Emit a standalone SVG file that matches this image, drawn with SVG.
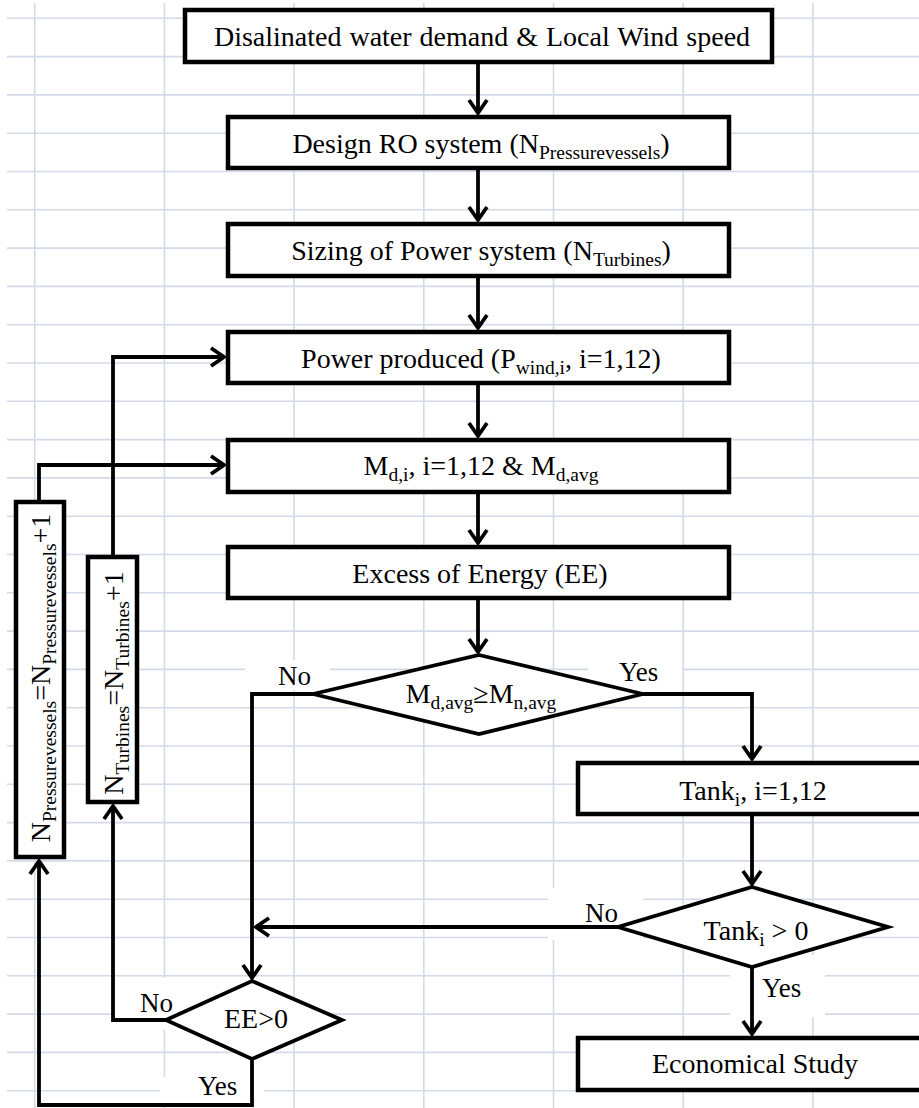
<svg xmlns="http://www.w3.org/2000/svg" width="919" height="1108" viewBox="0 0 919 1108">
<style>
.grid line{stroke:#d3dae8;stroke-width:1.6}
.gap{fill:#fff}
.box{fill:#fff;stroke:#000;stroke-width:4.5}
.dia{fill:#fff;stroke:#000;stroke-width:3.8;stroke-linejoin:miter}
.t{font-family:"Liberation Serif","Times New Roman",serif;font-size:28px;fill:#000;text-anchor:middle}
.lb{font-family:"Liberation Serif","Times New Roman",serif;font-size:27px;fill:#000}
.s{font-size:19.5px}
.c{fill:none;stroke:#000;stroke-width:3.8;marker-end:url(#ah)}
</style>
<defs>
<marker id="ah" markerUnits="userSpaceOnUse" viewBox="-18 -14 22 28" refX="0" refY="0" markerWidth="22" markerHeight="28" orient="auto">
<path d="M-13,-9 L0,0 L-13,9" fill="none" stroke="#000" stroke-width="3.8" stroke-linejoin="miter"/>
</marker>
</defs>
<rect width="919" height="1108" fill="#fff"/>
<g class="grid">
<line x1="7" y1="18.3" x2="919" y2="18.3"/><line x1="7" y1="56.6" x2="919" y2="56.6"/><line x1="7" y1="94.9" x2="919" y2="94.9"/><line x1="7" y1="133.2" x2="919" y2="133.2"/><line x1="7" y1="171.5" x2="919" y2="171.5"/><line x1="7" y1="209.8" x2="919" y2="209.8"/><line x1="7" y1="248.1" x2="919" y2="248.1"/><line x1="7" y1="286.4" x2="919" y2="286.4"/><line x1="7" y1="324.7" x2="919" y2="324.7"/><line x1="7" y1="363" x2="919" y2="363"/><line x1="7" y1="401.3" x2="919" y2="401.3"/><line x1="7" y1="439.6" x2="919" y2="439.6"/><line x1="7" y1="477.9" x2="919" y2="477.9"/><line x1="7" y1="516.2" x2="919" y2="516.2"/><line x1="7" y1="554.5" x2="919" y2="554.5"/><line x1="7" y1="592.8" x2="919" y2="592.8"/><line x1="7" y1="631.1" x2="919" y2="631.1"/><line x1="7" y1="669.4" x2="919" y2="669.4"/><line x1="7" y1="707.7" x2="919" y2="707.7"/><line x1="7" y1="746" x2="919" y2="746"/><line x1="7" y1="784.3" x2="919" y2="784.3"/><line x1="7" y1="822.6" x2="919" y2="822.6"/><line x1="7" y1="860.9" x2="919" y2="860.9"/><line x1="7" y1="899.2" x2="919" y2="899.2"/><line x1="7" y1="937.5" x2="919" y2="937.5"/><line x1="7" y1="975.8" x2="919" y2="975.8"/><line x1="7" y1="1014.1" x2="919" y2="1014.1"/><line x1="7" y1="1052.4" x2="919" y2="1052.4"/><line x1="7" y1="1090.7" x2="919" y2="1090.7"/>
<line x1="34.7" y1="3" x2="34.7" y2="1108"/><line x1="164.4" y1="3" x2="164.4" y2="1108"/><line x1="294" y1="3" x2="294" y2="1108"/><line x1="423.8" y1="3" x2="423.8" y2="1108"/><line x1="553.5" y1="3" x2="553.5" y2="1108"/><line x1="683.2" y1="3" x2="683.2" y2="1108"/><line x1="812.9" y1="3" x2="812.9" y2="1108"/>
</g>
<g id="label-gaps">
<rect class="gap" x="245" y="660" width="85" height="30"/>
<rect class="gap" x="588" y="655" width="94" height="32"/>
<rect class="gap" x="548" y="888" width="95" height="52"/>
<rect class="gap" x="730" y="955" width="95" height="62"/>
<rect class="gap" x="115" y="978" width="90" height="52"/>
<rect class="gap" x="160" y="1077" width="104" height="30"/>
</g>
<g id="n-input"><rect class="box" x="185" y="10" width="587" height="52"/><text class="t" x="482" y="46" word-spacing="1">Disalinated water demand &amp; Local Wind speed</text></g>
<g id="n-design"><rect class="box" x="228" y="117" width="501" height="51"/><text class="t" x="481" y="153">Design RO system (N<tspan class="s" dy="6">Pressurevessels</tspan><tspan dy="-6">)</tspan></text></g>
<g id="n-sizing"><rect class="box" x="228" y="224" width="501" height="52"/><text class="t" x="481" y="260">Sizing of Power system (N<tspan class="s" dy="6">Turbines</tspan><tspan dy="-6">)</tspan></text></g>
<g id="n-power"><rect class="box" x="228" y="332" width="501" height="51"/><text class="t" x="481" y="368">Power produced (P<tspan class="s" dy="6">wind,i</tspan><tspan dy="-6">, i=1,12)</tspan></text></g>
<g id="n-md"><rect class="box" x="228" y="440" width="501" height="52"/><text class="t" x="481" y="475">M<tspan class="s" dy="6">d,i</tspan><tspan dy="-6">, i=1,12 &amp; M</tspan><tspan class="s" dy="6">d,avg</tspan></text></g>
<g id="n-excess"><rect class="box" x="228" y="547" width="501" height="51"/><text class="t" x="480" y="583">Excess of Energy (EE)</text></g>
<g id="n-dec1"><polygon class="dia" points="479,655 643,694 479,734 313,694"/><text class="t" x="481" y="703">M<tspan class="s" dy="6">d,avg</tspan><tspan dy="-6">≥M</tspan><tspan class="s" dy="6">n,avg</tspan></text></g>
<g id="n-tank"><rect class="box" x="578" y="763" width="350" height="51"/><text class="t" x="753" y="800">Tank<tspan class="s" dy="6">i</tspan><tspan dy="-6">, i=1,12</tspan></text></g>
<g id="n-dec2"><polygon class="dia" points="752,887 888,927 752,967 618,927"/><text class="t" x="756" y="940">Tank<tspan class="s" dy="6">i</tspan><tspan dy="-6"> &gt; 0</tspan></text></g>
<g id="n-econ"><rect class="box" x="578" y="1038" width="350" height="52"/><text class="t" x="755" y="1073">Economical Study</text></g>
<g id="n-dec3"><polygon class="dia" points="252,981 342,1020 252,1059 166,1020"/><text class="t" x="256" y="1028">EE&gt;0</text></g>
<g id="n-np"><rect class="box" x="16" y="502" width="48" height="355"/><text class="t" transform="translate(50,678) rotate(-90)">N<tspan class="s" dy="6">Pressurevessels</tspan><tspan dy="-6">=N</tspan><tspan class="s" dy="6">Pressurevessels</tspan><tspan dy="-6">+1</tspan></text></g>
<g id="n-nt"><rect class="box" x="88" y="557" width="49" height="245"/><text class="t" transform="translate(123,683) rotate(-90)">N<tspan class="s" dy="6">Turbines</tspan><tspan dy="-6">=N</tspan><tspan class="s" dy="6">Turbines</tspan><tspan dy="-6">+1</tspan></text></g>
<g id="connectors">
<path class="c" d="M478,62 V113"/>
<path class="c" d="M478,168 V220"/>
<path class="c" d="M478,276 V328"/>
<path class="c" d="M478,383 V436"/>
<path class="c" d="M478,492 V543"/>
<path class="c" d="M478,598 V652"/>
<path class="c" d="M643,694 H752 V759"/>
<path class="c" d="M752,814 V884"/>
<path class="c" d="M752,967 V1034"/>
<path class="c" d="M618,927 H256"/>
<path class="c" d="M313,694 H252 V978"/>
<path class="c" d="M166,1020 H113 V806"/>
<path class="c" d="M113,557 V357 H224"/>
<path class="c" d="M252,1059 V1105 H39 V861"/>
<path class="c" d="M39,502 V465 H224"/>
</g>
<g id="labels">
<text class="lb" x="278" y="685">No</text>
<text class="lb" x="619" y="681">Yes</text>
<text class="lb" x="585" y="922">No</text>
<text class="lb" x="762" y="997">Yes</text>
<text class="lb" x="140" y="1012">No</text>
<text class="lb" x="198" y="1095">Yes</text>
</g>
</svg>
